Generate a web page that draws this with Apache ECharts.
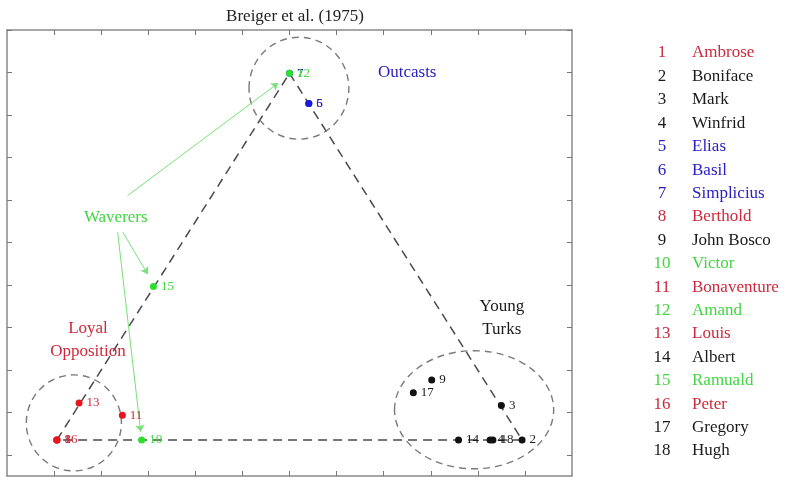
<!doctype html>
<html>
<head>
<meta charset="utf-8">
<script src="https://cdn.jsdelivr.net/npm/echarts@6/dist/echarts.min.js"></script>
</head>
<body style="margin:0;background:#fff;">
<div id="main" style="width:800px;height:484px;"></div>
<script>
// monks, positions (axis units)
var ids   = [1, 2, 3, 4, 5, 6, 7, 8, 9, 10, 11, 12, 13, 14, 15, 16, 17, 18];
var names = ['Ambrose', 'Boniface', 'Mark', 'Winfrid', 'Elias', 'Basil', 'Simplicius', 'Berthold', 'John Bosco',
             'Victor', 'Bonaventure', 'Amand', 'Louis', 'Albert', 'Ramuald', 'Peter', 'Gregory', 'Hugh'];
var groups = ['red', 'black', 'black', 'black', 'blue', 'blue', 'blue', 'red', 'black',
              'green', 'red', 'green', 'red', 'black', 'green', 'red', 'black', 'black'];
var xs = [0.06, 9.94, 9.50, 9.26, 5.41, 5.41, 5.00, 0.06, 8.02, 1.86, 1.45, 5.00, 0.53, 8.59, 2.11, 0.06, 7.63, 9.32];
var ys = [0.35, 0.35, 1.16, 0.35, 8.27, 8.27, 8.98, 0.35, 1.76, 0.35, 0.93, 8.98, 1.22, 0.35, 3.96, 0.35, 1.46, 0.35];

// triangle corners: Loyal Opposition, Outcasts, Young Turks
var triangle = [[0.06, 0.35], [5.00, 8.98], [9.94, 0.35]];

// cluster rings: centre x, centre y, radius x, radius y
var rings = [[5.20, 8.63, 1.06, 1.20], [0.42, 0.75, 1.01, 1.13], [8.92, 1.06, 1.69, 1.39]];

// arrows from the "Waverers" label
var arrows = [
  [[1.56, 6.10], [4.76, 8.75]],
  [[1.46, 5.24], [1.99, 4.25]],
  [[1.35, 5.24], [1.84, 0.54]]
];

// group labels
var noteText = ['Outcasts', 'Waverers', 'Young\nTurks', 'Loyal\nOpposition'];
var noteX = [7.50, 1.31, 9.51, 0.72];
var noteY = [9.00, 5.59, 3.23, 2.71];
var noteGroup = ['blue', 'green', 'black', 'red'];

var pointColor = { red: '#e8141e', black: '#111111', blue: '#1a1ad8', green: '#2ee02e' };
var textColor  = { red: '#cc2a3c', black: '#1a1a1a', blue: '#2b20c0', green: '#44d444' };
var serif = '"Liberation Serif", "DejaVu Serif", serif';

var chart = echarts.init(document.getElementById('main'));

var pts = ids.map(function (id, i) {
  return {
    name: String(id),
    value: [xs[i], ys[i]],
    itemStyle: { color: pointColor[groups[i]], opacity: 1 },
    label: { color: textColor[groups[i]] }
  };
});

var notes = noteText.map(function (t, i) {
  return { name: t, value: [noteX[i], noteY[i]], label: { color: textColor[noteGroup[i]] } };
});

var triLines = [
  { coords: [triangle[0], triangle[1]] },
  { coords: [triangle[1], triangle[2]] },
  { coords: [triangle[2], triangle[0]] }
];

var ticksX = [0, 1, 2, 3, 4, 5, 6, 7, 8, 9, 10];
var ticksY = [0, 1, 2, 3, 4, 5, 6, 7, 8, 9, 10];

function xAxisOf(pos) {
  return {
    type: 'value', position: pos, min: -1, max: 11,
    axisLine: { show: true, onZero: false, lineStyle: { color: '#8a8a8a', width: 1.5 } },
    axisTick: { show: true, inside: true, length: 5, customValues: ticksX, lineStyle: { color: '#777' } },
    axisLabel: { show: false }, splitLine: { show: false }
  };
}
function yAxisOf(pos) {
  return {
    type: 'value', position: pos, min: -0.5, max: 10,
    axisLine: { show: true, onZero: false, lineStyle: { color: '#8a8a8a', width: 1.5 } },
    axisTick: { show: true, inside: true, length: 5, customValues: ticksY, lineStyle: { color: '#777' } },
    axisLabel: { show: false }, splitLine: { show: false }
  };
}

// legend list on the right
var legend = [];
ids.forEach(function (id, i) {
  var y = 53 + i * 23.41;
  legend.push({
    type: 'text', x: 662, y: y,
    style: { text: String(id), font: '17px ' + serif, fill: textColor[groups[i]], align: 'center', verticalAlign: 'middle' }
  });
  legend.push({
    type: 'text', x: 692, y: y,
    style: { text: names[i], font: '17px ' + serif, fill: textColor[groups[i]], align: 'left', verticalAlign: 'middle' }
  });
});

chart.setOption({
  animation: false,
  title: {
    text: 'Breiger et al. (1975)', left: 290, top: 3, textAlign: 'center',
    textStyle: { fontFamily: serif, fontSize: 17, fontWeight: 'normal', color: '#222' }
  },
  grid: { left: 7, right: 228, top: 30, bottom: 8 },
  xAxis: [xAxisOf('bottom'), xAxisOf('top')],
  yAxis: [yAxisOf('left'), yAxisOf('right')],
  graphic: legend,
  series: [
    {
      type: 'lines', coordinateSystem: 'cartesian2d', z: 1,
      data: triLines, symbol: 'none',
      lineStyle: { color: '#4a4a4a', width: 1.5, type: [9, 6], opacity: 1 }
    },
    {
      type: 'custom', coordinateSystem: 'cartesian2d', z: 1,
      data: rings,
      renderItem: function (params, api) {
        var c = api.coord([api.value(0), api.value(1)]);
        var s = api.size([api.value(2), api.value(3)]);
        return {
          type: 'ellipse',
          shape: { cx: c[0], cy: c[1], rx: s[0], ry: s[1] },
          style: { fill: 'none', stroke: '#7a7a7a', lineWidth: 1.4, lineDash: [7, 5] }
        };
      }
    },
    {
      type: 'lines', coordinateSystem: 'cartesian2d', z: 2,
      data: arrows.map(function (a) { return { coords: a }; }),
      symbol: ['none', 'arrow'], symbolSize: 7,
      lineStyle: { color: '#77e077', width: 1, opacity: 1 }
    },
    {
      type: 'scatter', z: 5, symbolSize: 7, data: pts,
      label: {
        show: true, position: 'right', distance: 4,
        formatter: '{b}', fontFamily: serif, fontSize: 13
      }
    },
    {
      type: 'scatter', z: 5, symbolSize: 0, data: notes,
      itemStyle: { opacity: 1 },
      label: {
        show: true, position: 'inside', formatter: '{b}',
        fontFamily: serif, fontSize: 17, lineHeight: 23
      }
    }
  ]
});
</script>
</body>
</html>
